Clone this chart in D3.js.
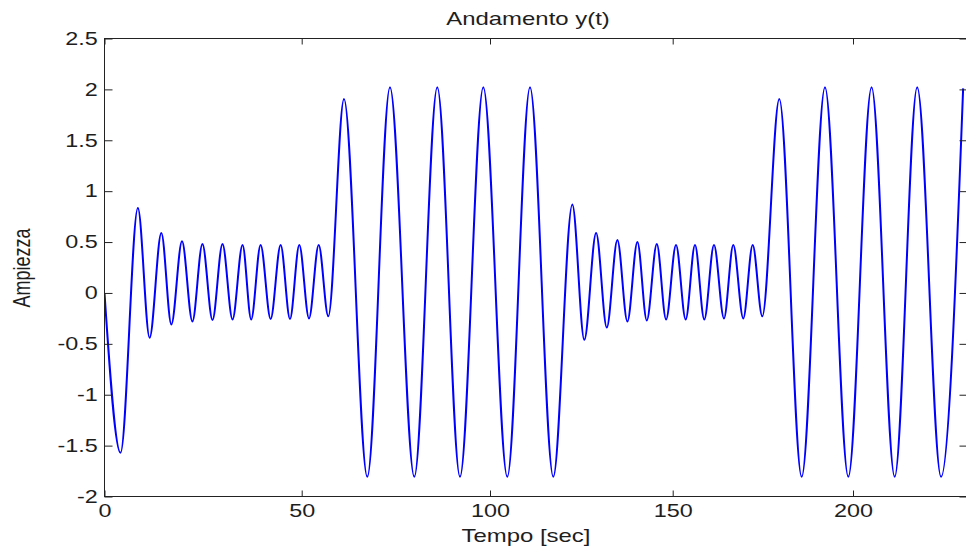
<!DOCTYPE html>
<html>
<head>
<meta charset="utf-8">
<script src="https://cdn.jsdelivr.net/npm/d3@7"></script>
<style>
  html, body { margin: 0; padding: 0; background: #fff; }
  svg { display: block; }
  text { font-family: "Liberation Sans", Arial, Helvetica, sans-serif; fill: #1e1e1e; }
</style>
</head>
<body>
<svg id="chart" width="966" height="548"></svg>
<script>
// ---- data (successive peaks / troughs of y(t)) ----
const tVals = [0, 4.07, 8.46, 11.44, 14.41, 16.95, 19.65, 22.29, 24.83, 27.38, 29.92, 32.46, 35.0, 37.19, 39.58, 42.12, 44.66, 47.03, 49.39, 51.94, 54.51, 57.06,
  61.23, 67.42, 73.44, 79.9, 86.0, 92.03, 98.22, 104.73, 110.95, 117.32,
  122.53, 125.81, 129.04, 131.96, 134.86, 137.6, 140.34, 142.91, 145.65, 148.19, 150.92, 153.6, 156.18, 158.76, 161.45, 164.22, 166.8, 169.57, 172.18, 174.84,
  179.56, 185.77, 192.23, 198.7, 205.19, 211.65, 217.94, 224.6, 230.78];
const yVals = [0, -1.57, 0.835, -0.44, 0.59, -0.31, 0.507, -0.28, 0.48, -0.265, 0.48, -0.26, 0.47, -0.26, 0.47, -0.255, 0.47, -0.255, 0.47, -0.25, 0.47, -0.23,
  1.905, -1.807, 2.02, -1.807, 2.02, -1.807, 2.02, -1.807, 2.02, -1.807,
  0.87, -0.46, 0.59, -0.34, 0.52, -0.28, 0.50, -0.27, 0.48, -0.26, 0.47, -0.26, 0.47, -0.26, 0.47, -0.25, 0.47, -0.25, 0.47, -0.23,
  1.905, -1.807, 2.02, -1.807, 2.02, -1.807, 2.02, -1.807, 2.01];
const xTicks = [0, 50, 100, 150, 200];
const yTicks = [-2, -1.5, -1, -0.5, 0, 0.5, 1, 1.5, 2, 2.5];
const titleText = "Andamento y(t)";
const xLabel = "Tempo [sec]";
const yLabel = "Ampiezza";

// ---- layout ----
const svg = d3.select("#chart");
const L = 104.5, R = 967.5, T = 38.5, B = 496.5;
const stretch = 1.3; // horizontal stretch of the glyphs in the reference

const x = d3.scaleLinear()
  .domain([0, 50, 100, 150, 200, 232])
  .range([L, 301.7, 490, 672.7, 853, R]);
const y = d3.scaleLinear().domain([-2, 2.5]).range([B, T]);

const data = tVals.map((t, i) => ({ t, v: yVals[i] }));

svg.append("clipPath").attr("id", "clip")
  .append("rect").attr("x", L).attr("y", T).attr("width", R - L).attr("height", B - T);

// line
svg.append("path")
  .datum(data)
  .attr("clip-path", "url(#clip)")
  .attr("fill", "none")
  .attr("stroke", "#0000ff")
  .attr("stroke-width", 2)
  .attr("stroke-linejoin", "round")
  .attr("d", d3.line().x(d => x(d.t)).y(d => y(d.v)).curve(d3.curveMonotoneX));

const fmt = d => String(d);

// bottom axis
const gx = svg.append("g").attr("transform", `translate(0,${B})`)
  .call(d3.axisBottom(x).tickValues(xTicks).tickFormat(fmt).tickSizeInner(-6).tickSizeOuter(0).tickPadding(8));
// top axis (ticks only)
const gxt = svg.append("g").attr("transform", `translate(0,${T})`)
  .call(d3.axisTop(x).tickValues(xTicks).tickFormat("").tickSizeInner(-6).tickSizeOuter(0));
// left axis
const gy = svg.append("g").attr("transform", `translate(${L},0)`)
  .call(d3.axisLeft(y).tickValues(yTicks).tickFormat(fmt).tickSizeInner(-8).tickSizeOuter(0).tickPadding(6));
// right axis (ticks only)
const gyr = svg.append("g").attr("transform", `translate(${R},0)`)
  .call(d3.axisRight(y).tickValues(yTicks).tickFormat("").tickSizeInner(-8).tickSizeOuter(0));

[gx, gxt, gy, gyr].forEach(g => {
  g.select(".domain").remove();
  g.selectAll(".tick line").attr("stroke", "#222").attr("stroke-width", 1);
  g.selectAll("text")
    .attr("font-size", 18)
    .attr("font-family", "'Liberation Sans', Arial, sans-serif")
    .attr("fill", "#1e1e1e")
    .attr("transform", `scale(${stretch},1)`);
});
gy.selectAll("text").attr("x", -6 / stretch - 0.5);

// frame
svg.append("rect")
  .attr("x", L).attr("y", T).attr("width", R - L).attr("height", B - T)
  .attr("fill", "none").attr("stroke", "#222").attr("stroke-width", 1);

// title
svg.append("text")
  .attr("transform", `translate(528,25) scale(${stretch + 0.03},1)`)
  .attr("text-anchor", "middle").attr("font-size", 18)
  .text(titleText);

// x label
svg.append("text")
  .attr("transform", `translate(526,542) scale(${stretch + 0.03},1)`)
  .attr("text-anchor", "middle").attr("font-size", 18)
  .text(xLabel);

// y label
svg.append("text")
  .attr("transform", `translate(30,268) rotate(-90) scale(1,${stretch})`)
  .attr("text-anchor", "middle").attr("font-size", 18)
  .text(yLabel);
</script>
</body>
</html>
